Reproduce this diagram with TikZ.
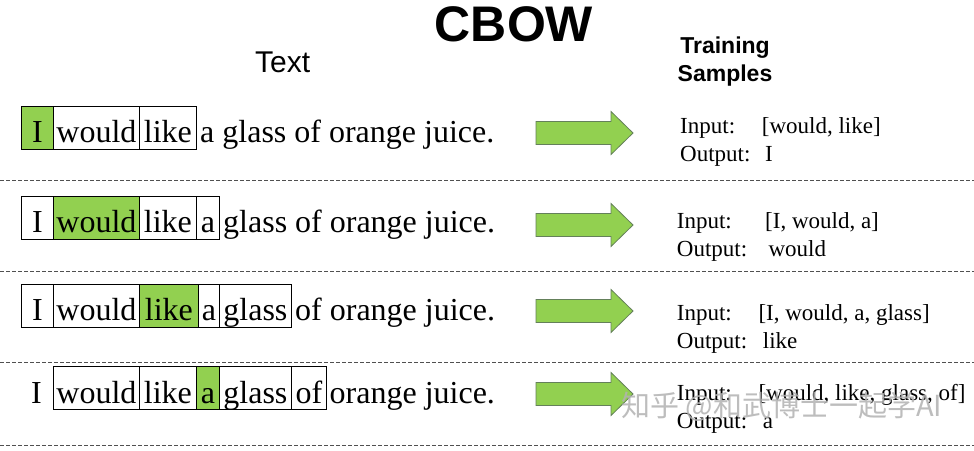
\documentclass[tikz,border=0pt]{standalone}
\usepackage{fontspec}
\setmainfont{Liberation Serif}
\setsansfont{Liberation Sans}
\newfontfamily\cjkfont{Noto Sans CJK SC}
\definecolor{cbgreen}{HTML}{92D050}
\definecolor{arrowline}{RGB}{100,128,90}
\definecolor{dashgray}{RGB}{80,80,80}
\newcommand\cbowarrow[1]{%
  \draw[blockarrow, shift={(0,#1)}] (536,-11.5) -- (611,-11.5) -- (611,-21.5) -- (633,0)
    -- (611,21.5) -- (611,11.5) -- (536,11.5) -- cycle;}
\begin{document}
\begin{tikzpicture}[x=1pt,y=-1pt,
  wbox/.style={draw=black, line width=0.8pt, inner sep=0pt, minimum height=43pt,
    text height=30pt, text depth=0pt, anchor=west, font=\fontsize{32}{38}\selectfont},
  plainword/.style={wbox, draw=none},
  hl/.style={fill=cbgreen},
  rest/.style={anchor=base west, inner sep=0pt, font=\fontsize{32}{38}\selectfont},
  blockarrow/.style={fill=cbgreen, draw=arrowline, line width=0.8pt, line join=miter},
  dashline/.style={draw=dashgray, line width=0.8pt, dash pattern=on 3.5pt off 2.5pt},
  sample/.style={anchor=base west, inner sep=0pt, font=\fontsize{23}{27}\selectfont},
  heading/.style={inner sep=0pt, font=\sffamily\bfseries\fontsize{23}{28}\selectfont}]
\useasboundingbox (0,0) rectangle (974,450);
\fill[white] (0,0) rectangle (974,450);

% titles
\node[anchor=base, inner sep=0pt, font=\sffamily\bfseries\fontsize{50}{56}\selectfont] (title) at (514,41.5) {CBOW};
\node[anchor=base west, inner sep=0pt, font=\sffamily\fontsize{30}{34}\selectfont] (texthead) at (255,72) {Text};
\node[heading, anchor=base] (train) at (725,53) {Training};
\node[heading, anchor=base] (samp) at (725,81) {Samples};

% row 1
\node[wbox, hl, minimum width=32pt] (r1w1) at (21,127.5) {I};
\node[wbox, minimum width=86pt] (r1w2) at (53,127.5) {would};
\node[wbox, minimum width=57pt] (r1w3) at (139,127.5) {like};
\node[rest] (r1rest) at (200,142.5) {a glass of orange juice.};

% row 2
\node[wbox, minimum width=32pt] (r2w1) at (21,217.5) {I};
\node[wbox, hl, minimum width=86pt] (r2w2) at (53,217.5) {would};
\node[wbox, minimum width=57pt] (r2w3) at (139,217.5) {like};
\node[wbox, minimum width=23pt] (r2w4) at (196,217.5) {a};
\node[rest] (r2rest) at (223,232.5) {glass of orange juice.};

% row 3
\node[wbox, minimum width=32pt] (r3w1) at (21,305.5) {I};
\node[wbox, minimum width=86pt] (r3w2) at (53,305.5) {would};
\node[wbox, hl, minimum width=59pt] (r3w3) at (139,305.5) {like};
\node[wbox, minimum width=21pt] (r3w4) at (198,305.5) {a};
\node[wbox, minimum width=72pt] (r3w5) at (219,305.5) {glass};
\node[rest] (r3rest) at (295,320.5) {of orange juice.};

% row 4
\node[plainword, minimum width=32pt] (r4w1) at (20,388) {I};
\node[wbox, minimum width=86pt] (r4w2) at (53,388) {would};
\node[wbox, minimum width=57pt] (r4w3) at (139,388) {like};
\node[wbox, hl, minimum width=23pt] (r4w4) at (196,388) {a};
\node[wbox, minimum width=72pt] (r4w5) at (219,388) {glass};
\node[wbox, minimum width=35pt] (r4w6) at (291,388) {of};
\node[rest] (r4rest) at (329.5,403) {orange juice.};

% arrows
\cbowarrow{133}
\cbowarrow{225}
\cbowarrow{311}
\cbowarrow{394}

% training samples
\node[sample] (in1) at (680,133) {Input:};
\node[sample] (in1v) at (761.7,133) {[would, like]};
\node[sample] (out1) at (680,161.7) {Output:};
\node[sample] (out1v) at (765,161.7) {I};

\node[sample] (in2) at (676.7,228.3) {Input:};
\node[sample] (in2v) at (765,228.3) {[I, would, a]};
\node[sample] (out2) at (676.7,256.7) {Output:};
\node[sample] (out2v) at (768.3,256.7) {would};

\node[sample] (in3) at (676.7,320) {Input:};
\node[sample] (in3v) at (758.3,320) {[I, would, a, glass]};
\node[sample] (out3) at (676.7,348.3) {Output:};
\node[sample] (out3v) at (762.7,348.3) {like};

\node[sample] (in4) at (676.7,400) {Input:};
\node[sample] (in4v) at (758.3,400) {[would, like, glass, of]};
\node[sample] (out4) at (676.7,428.3) {Output:};
\node[sample] (out4v) at (762.7,428.3) {a};

% dashed separators
\coordinate (d1l) at (0,180);   \coordinate (d1r) at (974,180);
\coordinate (d2l) at (0,271.5); \coordinate (d2r) at (974,271.5);
\coordinate (d3l) at (0,362.7); \coordinate (d3r) at (974,362.7);
\coordinate (d4l) at (0,445);   \coordinate (d4r) at (974,445);
\draw[dashline] (d1l) -- (d1r);
\draw[dashline] (d2l) -- (d2r);
\draw[dashline] (d3l) -- (d3r);
\draw[dashline] (d4l) -- (d4r);

% watermark
\node[anchor=base west, inner sep=0pt, text=gray!60, opacity=0.85,
  font=\cjkfont\fontsize{29}{32}\selectfont] (wm) at (621,416) {知乎 @和武博士一起学AI};
\end{tikzpicture}
\end{document}
